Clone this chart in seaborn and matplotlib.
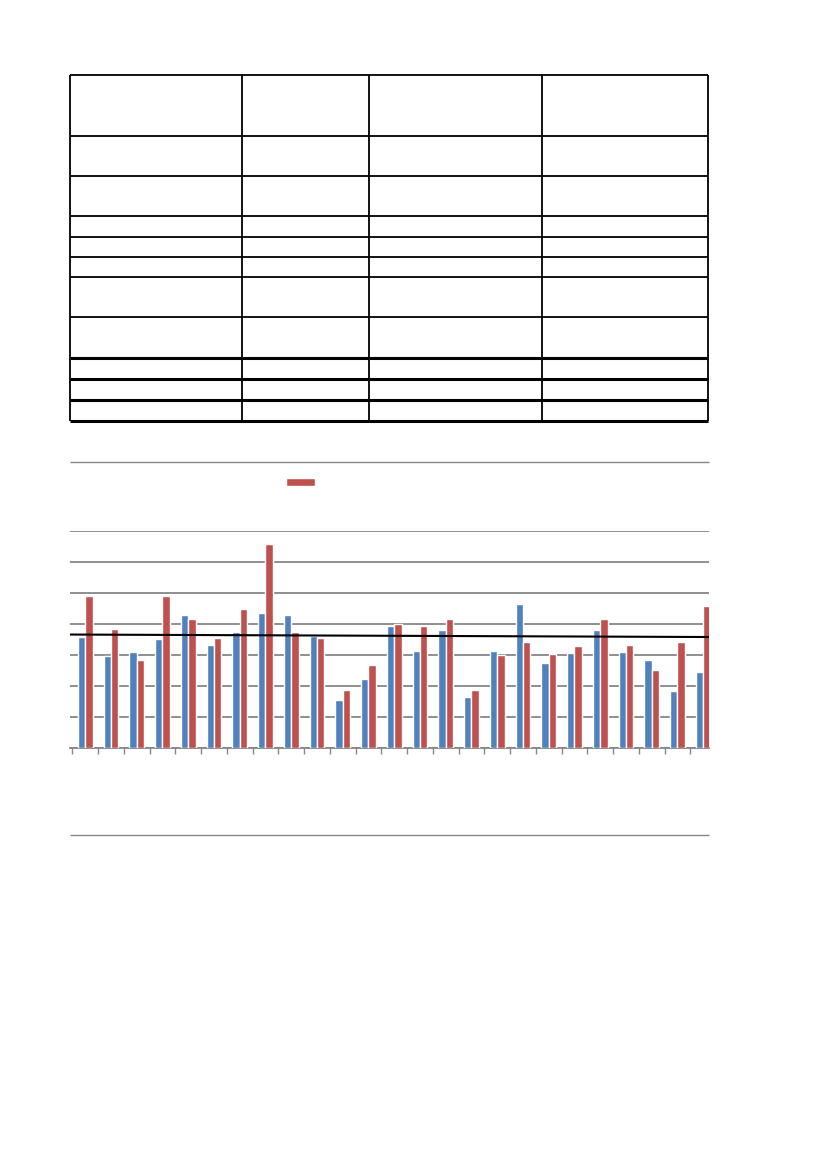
import numpy as np
import pandas as pd
import matplotlib
matplotlib.use("Agg")
import matplotlib.pyplot as plt
import seaborn as sns
from matplotlib.patches import Patch

# data (gridline units, 0..7)
cats = [str(i) for i in range(1, 26)]
blue_vals = [3.59, 2.97, 3.09, 3.52, 4.29, 3.33, 3.75, 4.37, 4.29, 3.62, 1.55, 2.23, 3.94,
             3.12, 3.80, 1.65, 3.14, 4.65, 2.75, 3.06, 3.80, 3.09, 2.84, 1.84, 2.46]
red_vals = [4.90, 3.84, 2.84, 4.90, 4.16, 3.56, 4.50, 6.58, 3.74, 3.56, 1.86, 2.68, 4.00,
            3.94, 4.17, 1.86, 3.01, 3.43, 3.03, 3.28, 4.17, 3.32, 2.51, 3.43, 4.59]
trend_start = 3.66
trend_end = 3.58

# table layout (empty table in the page)
col_edges = [70, 242, 369, 542, 708]
row_edges = [75, 136, 176, 216, 237, 257, 277, 317, 358, 379, 400, 421]
thick_rows = [358, 379, 400, 421]

blue = "#4F81BD"
red = "#C0504D"
grid_col = "#868686"

sns.set_theme(style="white")
plt.rcParams['font.family'] = ['DejaVu Sans']

W, H = 827, 1169
fig = plt.figure(figsize=(W / 100, H / 100), dpi=100)

# page layer for table and chart frame lines
page = fig.add_axes([0, 0, 1, 1])
page.set_xlim(0, W)
page.set_ylim(H, 0)
page.axis("off")
for y in row_edges:
    lw = 2.2 if y in thick_rows else 1.3
    page.hlines(y, col_edges[0], col_edges[-1], color="black", lw=lw)
page.vlines(col_edges, row_edges[0], row_edges[-1], color="black", lw=1.3)
# chart area border lines
page.hlines([462, 835], 70, 709, color=grid_col, lw=1.0)

# bar chart
df = pd.DataFrame({
    "cat": cats * 2,
    "value": blue_vals + red_vals,
    "series": ["A"] * len(cats) + ["B"] * len(cats),
})
ax = fig.add_axes([70 / W, 1 - 748 / H, (709 - 70) / W, (748 - 531) / H])
sns.barplot(data=df, x="cat", y="value", hue="series", palette=[blue, red],
            width=0.57, gap=0, legend=False, ax=ax, saturation=1, zorder=3)
# category pitch ~25.75 px, first boundary at 72.3 px; the plot is cut at 709 px
pitch = 25.75
ax.set_xlim(-0.5 - (72.3 - 70) / pitch, -0.5 + (709 - 72.3) / pitch)
ax.set_ylim(0, 7)
ax.set_yticks(np.arange(0, 8, 1))
ax.yaxis.grid(True, color=grid_col, lw=1.3)
ax.set_axisbelow(True)
ax.set_yticklabels([])
ax.tick_params(axis="y", length=0)
ax.set_xticks(np.arange(-0.5, len(cats) - 1, 1))
ax.set_xticklabels([])
ax.tick_params(axis="x", bottom=True, length=4, width=1, color=grid_col, direction="out")
ax.set_xlabel("")
ax.set_ylabel("")
for s in ["top", "left", "right"]:
    ax.spines[s].set_visible(False)
ax.spines["bottom"].set_color(grid_col)
ax.spines["bottom"].set_linewidth(1.3)
ax.patch.set_alpha(0)

x0, x1 = ax.get_xlim()
ax.plot([x0, x1], [trend_start, trend_end], color="black", lw=1.5, zorder=4)

fig.legend(handles=[Patch(facecolor=red)], labels=[""], loc="center left",
           bbox_to_anchor=(286 / W, 1 - 483 / H), frameon=False,
           borderpad=0, handletextpad=0, handlelength=1.87, handleheight=0.45,
           borderaxespad=0)

fig.savefig("out.png", dpi=100)
